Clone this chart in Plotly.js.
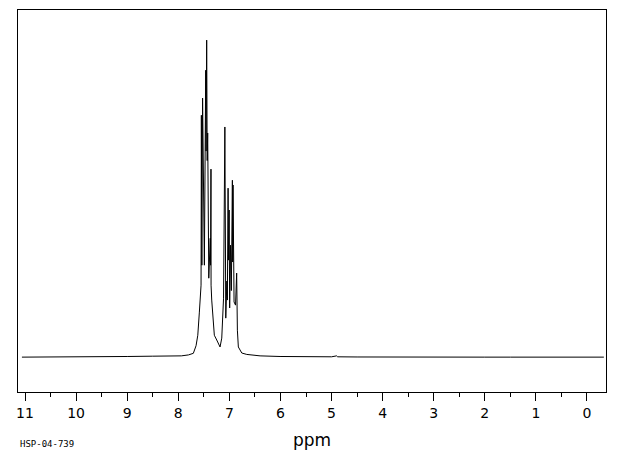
<!DOCTYPE html>
<html>
<head>
<meta charset="utf-8">
<script src="https://cdn.plot.ly/plotly-3.0.1.min.js"></script>
<style>
html,body{margin:0;padding:0;background:#fff;}
#chart{width:620px;height:455px;}
</style>
</head>
<body>
<div id="chart"></div>
<script>
// Chemical shift (ppm) and relative intensity
const shiftPpm = [
  11.06, 10.5, 10.0, 9.5, 9.0, 8.5, 8.2, 7.94, 7.80, 7.705, 7.652, 7.618, 7.587, 7.573, 7.554,
  7.548, 7.538, 7.524, 7.489, 7.463, 7.456, 7.444, 7.434, 7.424, 7.403, 7.374, 7.368, 7.360,
  7.358, 7.345, 7.325, 7.314, 7.294, 7.247, 7.182, 7.149, 7.137, 7.129, 7.114,
  7.088, 7.070, 7.049, 7.039, 7.025, 7.016, 7.004, 6.994, 6.977, 6.961, 6.941, 6.935, 6.928,
  6.908, 6.879, 6.857, 6.849, 6.843, 6.824, 6.757, 6.659, 6.399, 6.008, 5.5, 5.0, 4.9, 4.88,
  4.5, 4.0, 3.5, 3.0, 2.5, 2.0, 1.5, 1.0, 0.5, 0.0, -0.33
];
const intensity = [
  0.0, 0.0, 0.1, 0.2, 0.2, 0.3, 0.3, 0.4, 0.7, 1.2, 3.6, 6.9, 14.2, 18.0, 22.7,
  76.3, 29.0, 81.7, 29.0, 90.5, 65.0, 100.0, 62.0, 70.7, 24.9, 37.5, 29.0, 59.3,
  22.7, 18.0, 14.2, 11.7, 6.9, 5.4, 3.2, 6.0, 11.7, 18.0, 18.6,
  72.6, 12.3, 24.0, 18.0, 53.3, 30.6, 46.4, 15.5, 35.3, 21.0, 55.8, 30.0, 54.3,
  17.4, 16.4, 26.5, 14.2, 8.5, 3.2, 1.3, 0.85, 0.4, 0.2, 0.1, 0.1, 0.4, 0.1,
  0.05, 0.0, 0.0, 0.0, 0.0, 0.0, 0.0, 0.0, 0.0, 0.0, 0.0
];
const tickVals = [11, 10, 9, 8, 7, 6, 5, 4, 3, 2, 1, 0];
const tickText = ["11", "10", "9", "8", "7", "6", "5", "4", "3", "2", "1", "0"];
const axisLabel = "ppm";
const specId = "HSP-04-739";

const trace = {
  x: shiftPpm,
  y: intensity,
  type: 'scatter',
  mode: 'lines',
  line: {color: '#000', width: 1},
  hoverinfo: 'x+y'
};

const layout = {
  width: 620,
  height: 455,
  margin: {l: 18, r: 14, t: 10, b: 63},
  paper_bgcolor: '#fff',
  plot_bgcolor: '#fff',
  showlegend: false,
  font: {family: 'DejaVu Sans, sans-serif', color: '#000'},
  xaxis: {
    range: [11.137, -0.372],
    showgrid: false,
    zeroline: false,
    showline: true,
    mirror: true,
    linecolor: '#000',
    linewidth: 1,
    ticks: 'outside',
    ticklen: 8,
    tickwidth: 1,
    tickcolor: '#000',
    tickvals: tickVals,
    ticktext: tickText,
    tickfont: {size: 14, color: '#000', family: 'DejaVu Sans, sans-serif'},
    minor: {dtick: 0.5, ticks: 'outside', ticklen: 4, tickwidth: 1, tickcolor: '#000', showgrid: false},
    title: {text: axisLabel, font: {size: 17, color: '#000', family: 'DejaVu Sans, sans-serif'}, standoff: 14},
    automargin: false
  },
  yaxis: {
    range: [-11.0, 109.5],
    showgrid: false,
    zeroline: false,
    showline: true,
    mirror: true,
    linecolor: '#000',
    linewidth: 1,
    ticks: '',
    showticklabels: false,
    automargin: false
  },
  annotations: [{
    text: specId,
    xref: 'paper', yref: 'paper',
    x: 0, y: -0.135,
    xanchor: 'left', yanchor: 'middle',
    showarrow: false,
    font: {size: 9, color: '#000', family: 'DejaVu Sans Mono, monospace'}
  }]
};

Plotly.newPlot('chart', [trace], layout, {staticPlot: true, displayModeBar: false});
</script>
</body>
</html>
